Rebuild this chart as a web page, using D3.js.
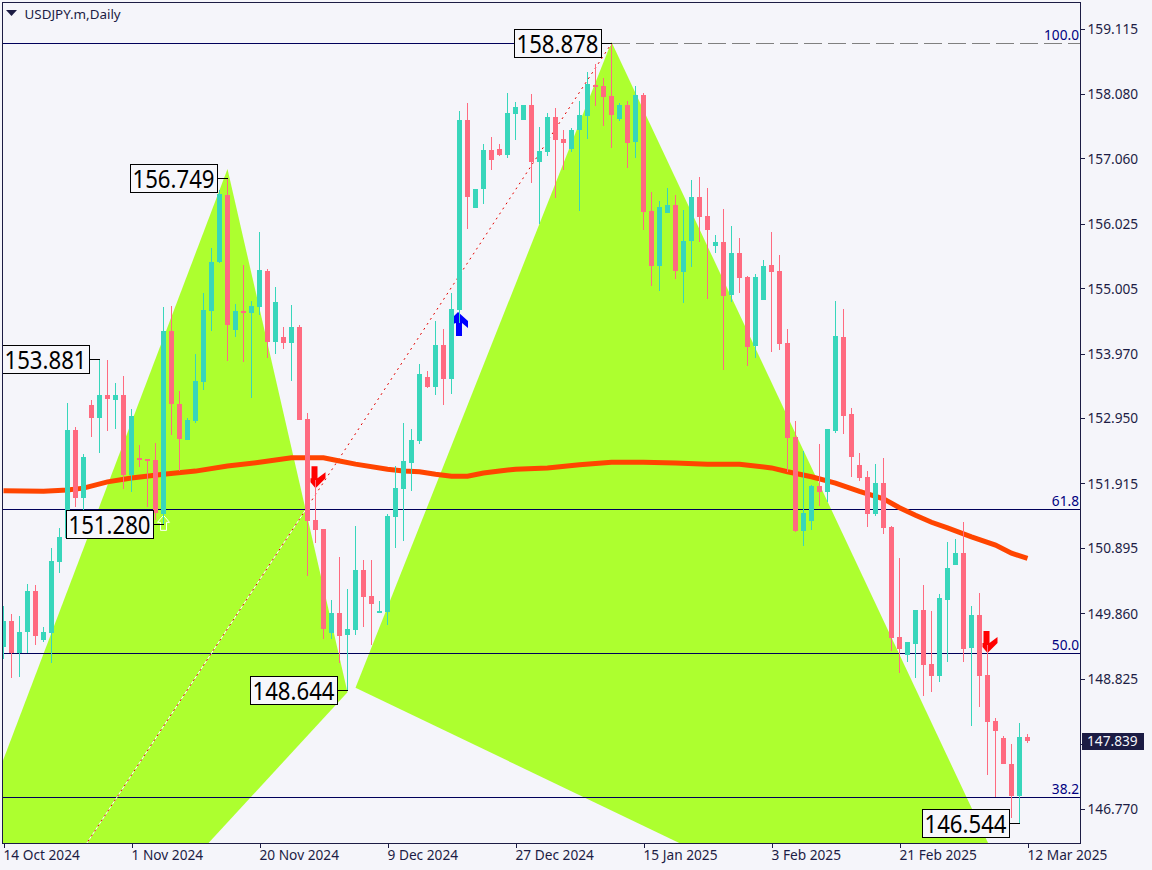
<!DOCTYPE html>
<html><head><meta charset="utf-8">
<script src="https://cdn.jsdelivr.net/npm/d3@7"></script>
<style>html,body{margin:0;padding:0;background:#f5f5fa;overflow:hidden}svg{display:block}
text{font-family:"Noto Sans",sans-serif}</style></head><body>
<svg id="c" width="1152" height="870"></svg>
<script>
const title = "USDJPY.m,Daily";
const opens = [149.33,149.73,149.23,149.56,150.21,149.44,149.54,150.67,151.05,152.76,
151.68,153.16,152.95,153.31,153.24,153.31,152.05,152.31,152.30,152.29,
151.43,154.33,153.17,152.60,152.90,153.52,154.64,155.42,156.48,154.34,
154.64,154.61,154.71,155.28,154.15,154.23,154.13,154.39,152.93,151.34,
151.19,149.54,149.86,149.52,149.59,150.54,150.13,149.86,149.88,151.38,
151.83,152.24,152.59,153.60,153.44,154.10,153.57,154.66,157.67,156.27,
156.57,157.19,157.21,157.11,157.76,157.67,157.90,157.00,157.16,157.71,
157.37,157.21,157.51,157.73,158.22,158.20,158.05,157.68,157.90,157.32,
158.06,156.23,155.36,156.19,156.32,155.26,155.75,156.45,156.15,155.67,
155.74,154.90,155.56,155.18,154.09,154.82,155.37,155.28,154.14,152.65,
151.16,151.32,151.87,151.78,152.74,154.23,153.01,152.21,152.02,151.43,
151.92,151.22,149.48,149.20,149.37,149.91,149.06,148.87,150.07,150.62,
150.81,149.31,149.83,148.88,148.15,147.88,147.47,146.97,147.90];
const highs = [149.97,149.85,149.81,150.33,150.30,149.64,150.89,151.21,153.19,152.81,
152.38,153.24,153.881,153.87,153.50,153.61,153.09,152.52,152.30,152.55,
154.71,154.72,153.38,152.95,153.96,154.93,155.64,156.56,156.749,154.75,
155.37,154.80,155.89,155.31,155.02,154.39,154.74,154.42,153.03,151.97,
151.19,150.07,150.75,150.24,151.24,150.70,150.70,150.05,151.43,152.19,
152.87,152.78,153.80,153.69,154.48,154.36,154.93,157.81,157.94,156.57,
157.29,157.40,157.29,158.09,157.95,157.90,158.08,157.56,157.78,157.86,
157.51,157.54,157.97,158.43,158.55,158.33,158.878,157.93,157.97,158.20,
158.09,156.53,156.38,156.59,156.48,156.24,156.72,156.77,156.59,155.85,
156.26,155.99,155.80,155.20,155.23,155.45,155.89,155.53,154.36,152.90,
152.43,151.89,152.54,152.78,154.80,154.67,153.11,152.40,152.11,152.22,
152.32,151.24,150.73,149.41,149.91,150.31,149.90,150.17,150.99,151.03,
151.30,149.97,150.18,149.36,148.20,147.92,147.79,148.12,147.95];
const lows = [149.14,148.83,148.85,149.23,149.36,149.41,149.07,150.49,151.05,151.54,
151.46,152.65,152.40,152.74,152.78,151.83,151.78,152.17,151.54,151.34,
151.28,152.68,152.11,152.60,152.87,153.39,154.33,155.40,153.85,154.23,
153.84,153.27,154.58,153.90,153.96,154.04,153.54,152.92,150.45,150.97,
149.45,149.45,149.07,148.644,149.52,149.64,149.36,149.86,149.67,150.89,
151.00,151.80,152.54,153.42,153.31,153.16,153.33,154.45,155.94,156.27,
156.34,156.87,157.09,157.06,157.35,157.67,156.67,156.02,157.09,156.43,
156.87,157.16,156.23,157.37,157.89,157.57,157.22,157.65,156.91,157.06,
155.93,155.04,154.96,156.19,155.15,154.77,155.34,155.74,154.83,155.56,
153.71,154.79,154.93,153.77,153.90,154.82,153.99,154.03,152.10,151.15,
150.92,151.18,151.56,151.62,152.71,152.70,152.02,151.95,151.23,151.40,
151.11,149.26,148.92,149.09,148.83,148.55,148.61,148.77,149.09,150.62,
149.09,148.07,148.38,147.30,146.95,147.47,146.62,146.544,147.80];
const closes = [149.73,149.23,149.57,150.21,149.50,149.57,150.69,151.07,152.76,151.68,
152.33,152.95,153.31,153.25,153.31,152.05,152.98,152.29,152.27,151.45,
154.33,153.17,152.62,152.92,153.54,154.66,155.42,156.49,154.42,154.64,
154.61,154.72,155.29,154.15,154.79,154.13,154.39,152.92,151.32,151.18,
149.61,149.86,149.50,149.61,150.54,150.12,150.00,149.90,151.40,151.84,
152.27,152.60,153.65,153.44,154.10,153.57,154.67,157.67,156.45,156.57,
157.19,157.03,157.11,157.78,157.87,157.90,157.00,157.18,157.71,157.35,
157.30,157.51,157.75,158.24,158.19,158.03,157.75,157.90,157.30,158.06,
156.21,155.36,156.29,156.32,155.28,155.75,156.45,156.13,155.93,155.74,
154.88,155.56,155.17,154.07,155.18,155.36,155.26,154.12,152.63,151.16,
151.45,151.87,151.78,152.78,154.25,152.98,152.33,152.00,151.43,151.92,
151.21,149.47,149.29,149.41,149.91,149.04,148.87,150.10,150.58,150.81,
149.29,149.83,148.87,148.14,147.99,147.47,146.97,147.90,147.839];
const maBars = [0,5,8,10,13,16,20,24,28,32,36,40,42,44,48,50,52,54,56,58,60,62,64,68,72,76,80,84,88,92,96,98,101,104,107,110,112,114,116,118,121,124,126,128];
const maValues = [151.80,151.79,151.81,151.84,151.94,152.00,152.06,152.11,152.19,152.25,152.32,152.32,152.27,152.22,152.14,152.11,152.10,152.06,152.03,152.03,152.08,152.11,152.14,152.16,152.21,152.25,152.25,152.24,152.22,152.22,152.16,152.10,152.02,151.92,151.79,151.67,151.53,151.41,151.30,151.21,151.07,150.94,150.81,150.73];
const priceTicks = [159.115,158.080,157.060,156.025,155.005,153.970,152.950,151.915,150.895,149.860,148.825,147.790,146.770];
const lastPrice = 147.839;
const dateBars = [0,16,32,48,64,80,96,112,128];
const dateLabels = ["14 Oct 2024","1 Nov 2024","20 Nov 2024","9 Dec 2024","27 Dec 2024","15 Jan 2025","3 Feb 2025","21 Feb 2025","12 Mar 2025"];
const fibLabels = ["100.0","61.8","50.0","38.2"];
const fibPrices = [158.878,151.50,149.23,146.95];
const swingBars = [12,20,28,76,43,127];
const swingPrices = [153.881,151.280,156.749,158.878,148.644,146.544];
const triangleBars = [[28,43,-24.7],[76,44,134.3]];
const trianglePrices = [[156.89,148.61,139.31],[158.90,148.68,143.2]];
const zigzagBars = [-24,76];
const zigzagPrices = [139.58,158.878];
const arrowBars = [57,20,39,123];
const arrowPrices = [154.63,151.41,151.84,149.23];
const arrowKinds = ["up","hollow","down","down"];

const UP="#38d6bb",DOWN="#ff6b80",GREEN="#adff2f",INK="#1c1c44",NAVY="#00005a";
const L=3,R=1080,T=3,B=843;
const svg=d3.select("#c");
const x=d3.scaleLinear().domain([0,128]).range([3.5,1027.5]);
const y=d3.scaleLinear().domain([159.115,146.770]).range([28.5,808.5]);
svg.append("rect").attr("width",1152).attr("height",870).attr("fill","#f5f5fa");
svg.append("defs").append("clipPath").attr("id","plot").append("rect").attr("x",L).attr("y",T).attr("width",R-L).attr("height",B-T);
const g=svg.append("g").attr("clip-path","url(#plot)");

// green harmonic triangles
g.selectAll("path.tri").data(d3.range(triangleBars.length)).join("path").attr("class","tri")
 .attr("fill",GREEN)
 .attr("d",k=>d3.line()(triangleBars[k].map((b,j)=>[x(b),y(trianglePrices[k][j])]))+"Z");

// fib levels
const crisp="crispEdges";
fibPrices.forEach((p,k)=>{
  const ly=Math.floor(y(p))+.5;
  if(k===0){
    g.append("line").attr("x1",L).attr("x2",x(76)).attr("y1",ly).attr("y2",ly).attr("stroke",NAVY).attr("shape-rendering",crisp);
    g.append("line").attr("x1",x(76)).attr("x2",R).attr("y1",ly).attr("y2",ly).attr("stroke","#808080").attr("stroke-dasharray","18,6").attr("shape-rendering",crisp);
  } else {
    g.append("line").attr("x1",L).attr("x2",R).attr("y1",ly).attr("y2",ly).attr("stroke",NAVY).attr("shape-rendering",crisp);
  }
  svg.append("text").attr("x",1079).attr("y",y(p)-8).attr("dy","0.35em").attr("text-anchor","end")
    .attr("font-size",13.7).attr("fill","#000080").text(fibLabels[k]);
});

// zigzag
const zz=d3.line()(zigzagBars.map((b,i)=>[x(b),y(zigzagPrices[i])]));
g.append("path").attr("d",zz).attr("stroke","#ffffff").attr("fill","none");
g.append("path").attr("d",zz).attr("stroke","#e00000").attr("stroke-width",1).attr("stroke-dasharray","2,4").attr("fill","none");

// moving average
g.append("path").attr("d",d3.line().x((b)=>x(b)).y((b,i)=>y(maValues[i]))(maBars))
 .attr("fill","none").attr("stroke","#ff4500").attr("stroke-width",5);

// swing labels
const lab=svg.append("g");
swingBars.forEach((b,k)=>{
  const xr=x(b)-10, yc=y(swingPrices[k]), w=87,h=28;
  lab.append("line").attr("x1",xr).attr("x2",x(b)).attr("y1",Math.round(yc)+.5).attr("y2",Math.round(yc)+.5).attr("stroke","#000").attr("shape-rendering",crisp);
  const left=Math.max(xr-w,2.5);
  lab.append("rect").attr("x",left).attr("y",Math.round(yc)-13.5).attr("width",xr-left).attr("height",h)
    .attr("fill","#f7f7fb").attr("stroke","#000").attr("stroke-width",1).attr("shape-rendering",crisp);
  lab.append("text").attr("x",xr-3).attr("y",Math.round(yc)+.5).attr("dy","0.36em").attr("text-anchor","end")
    .attr("font-size",25.5).attr("textLength",82).attr("lengthAdjust","spacingAndGlyphs").attr("fill","#000")
    .text(d3.format(".3f")(swingPrices[k]));
});

// arrows
const arrowPath={
  up:"M0,0L10,9L10,16L4,11L4,24L-2,24L-2,11L-5,12L-5,5Z",
  down:"M0,0L10,-10L10,-16L2,-10L2,-22L-4,-22L-4,-10L-5,-10L-5,-6Z",
  hollow:"M0,0L6,7L3,7L3,15L-3,15L-3,7L-6,7Z"};
arrowBars.forEach((b,k)=>{
  const kind=arrowKinds[k];
  g.append("path").attr("transform",`translate(${x(b)-(kind==="up"?1.5:0)},${y(arrowPrices[k])})`)
   .attr("d",arrowPath[kind])
   .attr("fill",kind==="hollow"?"none":kind==="up"?"#0000ff":"#ff0000")
   .attr("stroke",kind==="hollow"?"#ffffff":"none");
});

// candles
const idx=d3.range(opens.length);
const cg=g.append("g").attr("shape-rendering",crisp);
cg.selectAll("line").data(idx).join("line")
 .attr("x1",i=>x(i)).attr("x2",i=>x(i))
 .attr("y1",i=>y(highs[i])).attr("y2",i=>y(lows[i]))
 .attr("stroke",i=>closes[i]>=opens[i]?UP:DOWN);
cg.selectAll("rect").data(idx).join("rect")
 .attr("x",i=>x(i)-2.5).attr("width",5)
 .attr("y",i=>y(Math.max(opens[i],closes[i])))
 .attr("height",i=>Math.max(2,Math.abs(y(opens[i])-y(closes[i]))))
 .attr("fill",i=>closes[i]>=opens[i]?UP:DOWN);

// frame
svg.append("rect").attr("x",2.5).attr("y",2.5).attr("width",1078).attr("height",841)
 .attr("fill","none").attr("stroke",INK).attr("shape-rendering",crisp);

// axes
const yAxis=svg.append("g").attr("transform","translate(1080.5,0)")
 .call(d3.axisRight(y).tickValues(priceTicks).tickSize(4).tickPadding(3)
   .tickFormat(v=>v===147.79?"":d3.format(".3f")(v)));
yAxis.select(".domain").remove();
yAxis.selectAll("line").attr("stroke",INK).attr("shape-rendering",crisp);
yAxis.selectAll("text").attr("font-size",13.7).attr("fill",INK).attr("transform","translate(0,0.5)").style("font-family",'"Noto Sans",sans-serif');

const xAxis=svg.append("g").attr("transform","translate(0,843.5)")
 .call(d3.axisBottom(x).tickValues(dateBars).tickSize(4).tickFormat((v,i)=>dateLabels[i]));
xAxis.select(".domain").remove();
xAxis.selectAll("line").attr("stroke",INK).attr("shape-rendering",crisp);
xAxis.selectAll("text").attr("text-anchor","start").attr("x",-0.5).attr("y",7).attr("font-size",13.7).attr("fill",INK).style("font-family",'"Noto Sans",sans-serif');

// last price tag
svg.append("rect").attr("x",1082).attr("y",733).attr("width",62).attr("height",17).attr("fill",INK);
svg.append("text").attr("x",1087).attr("y",741.5).attr("dy","0.35em").attr("font-size",13.7).attr("fill","#f5f5fa").text(d3.format(".3f")(lastPrice));

// title
svg.append("path").attr("d","M6,10L17,10L11.5,16Z").attr("fill",INK);
svg.append("text").attr("x",24.5).attr("y",14).attr("dy","0.35em").attr("font-size",13.4).attr("fill",INK).text(title);
</script></body></html>
